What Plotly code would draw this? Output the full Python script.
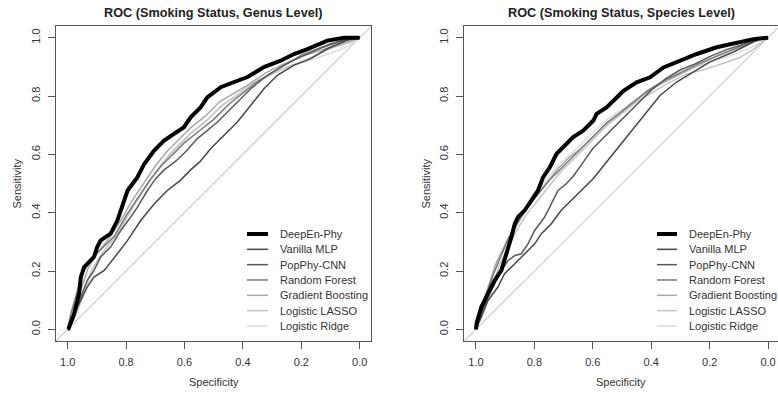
import plotly.graph_objects as go

W, H = 778, 395

models = ["DeepEn-Phy", "Vanilla MLP", "PopPhy-CNN", "Random Forest",
          "Gradient Boosting", "Logistic LASSO", "Logistic Ridge"]
colors = ["#000000", "#474747", "#595959", "#7a7a7a", "#a8a8a8", "#c4c4c4", "#dcdcdc"]
widths = [4, 1.5, 1.5, 1.5, 1.5, 1.5, 1.5]

titles = ["ROC (Smoking Status, Genus Level)", "ROC (Smoking Status, Species Level)"]
tick_vals = [0.0, 0.2, 0.4, 0.6, 0.8, 1.0]
tick_text = ["0.0", "0.2", "0.4", "0.6", "0.8", "1.0"]

# ---------------- Genus level (left panel): specificity / sensitivity ----------------
genus_deep_spec = [1.0, 0.997, 0.978, 0.961, 0.955, 0.944, 0.910, 0.899, 0.887, 0.853, 0.830, 0.807,
                   0.795, 0.761, 0.738, 0.704, 0.670, 0.636, 0.602, 0.579, 0.545, 0.522, 0.476,
                   0.430, 0.384, 0.328, 0.271, 0.225, 0.179, 0.111, 0.054, 0.0]
genus_deep_sens = [0.0, 0.002, 0.054, 0.122, 0.179, 0.213, 0.248, 0.282, 0.305, 0.328, 0.373, 0.442,
                   0.476, 0.522, 0.567, 0.613, 0.647, 0.670, 0.693, 0.727, 0.761, 0.795, 0.830,
                   0.848, 0.865, 0.899, 0.921, 0.944, 0.961, 0.990, 1.0, 1.0]

genus_mlp_spec = [1.0, 0.995, 0.978, 0.955, 0.933, 0.910, 0.875, 0.830, 0.795, 0.750, 0.704, 0.659,
                  0.615, 0.581, 0.547, 0.510, 0.476, 0.419, 0.373, 0.328, 0.282, 0.225, 0.168,
                  0.111, 0.031, 0.0]
genus_mlp_sens = [0.0, 0.008, 0.054, 0.099, 0.145, 0.179, 0.202, 0.259, 0.305, 0.373, 0.430, 0.476,
                  0.510, 0.545, 0.575, 0.620, 0.654, 0.711, 0.768, 0.825, 0.871, 0.906, 0.928,
                  0.962, 0.997, 1.0]

genus_cnn_spec = [1.0, 0.978, 0.955, 0.933, 0.910, 0.887, 0.853, 0.818, 0.784, 0.761, 0.727, 0.700,
                  0.672, 0.627, 0.592, 0.556, 0.487, 0.430, 0.373, 0.316, 0.259, 0.200, 0.130,
                  0.060, 0.0]
genus_cnn_sens = [0.0, 0.042, 0.111, 0.168, 0.202, 0.248, 0.282, 0.339, 0.385, 0.419, 0.476, 0.515,
                  0.545, 0.579, 0.613, 0.654, 0.711, 0.768, 0.825, 0.871, 0.906, 0.935, 0.965,
                  0.990, 1.0]

genus_rf_spec = [1.0, 0.99, 0.97, 0.95, 0.92, 0.88, 0.84, 0.80, 0.76, 0.72, 0.68, 0.64, 0.60, 0.55,
                 0.50, 0.45, 0.40, 0.35, 0.30, 0.25, 0.20, 0.15, 0.10, 0.05, 0.0]
genus_rf_sens = [0.0, 0.05, 0.12, 0.19, 0.24, 0.28, 0.32, 0.39, 0.45, 0.51, 0.56, 0.60, 0.64, 0.68,
                 0.72, 0.77, 0.81, 0.85, 0.88, 0.91, 0.94, 0.96, 0.98, 0.99, 1.0]

genus_gb_spec = [1.0, 0.985, 0.97, 0.95, 0.93, 0.90, 0.86, 0.82, 0.78, 0.74, 0.70, 0.66, 0.62, 0.58,
                 0.53, 0.48, 0.43, 0.38, 0.32, 0.26, 0.20, 0.14, 0.08, 0.03, 0.0]
genus_gb_sens = [0.0, 0.04, 0.09, 0.15, 0.21, 0.26, 0.31, 0.37, 0.44, 0.50, 0.56, 0.61, 0.65, 0.69,
                 0.73, 0.78, 0.81, 0.84, 0.88, 0.91, 0.935, 0.955, 0.975, 0.99, 1.0]

genus_lasso_spec = [1.0, 0.98, 0.96, 0.94, 0.92, 0.89, 0.85, 0.81, 0.77, 0.73, 0.69, 0.65, 0.61, 0.57,
                    0.52, 0.47, 0.42, 0.37, 0.31, 0.25, 0.19, 0.13, 0.08, 0.03, 0.0]
genus_lasso_sens = [0.0, 0.03, 0.08, 0.14, 0.20, 0.25, 0.30, 0.36, 0.43, 0.49, 0.55, 0.60, 0.64, 0.68,
                    0.72, 0.77, 0.80, 0.84, 0.87, 0.90, 0.92, 0.95, 0.97, 0.985, 1.0]

genus_ridge_spec = [1.0, 0.985, 0.965, 0.945, 0.92, 0.89, 0.86, 0.82, 0.78, 0.74, 0.70, 0.66, 0.62,
                    0.58, 0.54, 0.49, 0.44, 0.39, 0.33, 0.27, 0.21, 0.15, 0.09, 0.04, 0.0]
genus_ridge_sens = [0.0, 0.03, 0.07, 0.12, 0.18, 0.24, 0.29, 0.35, 0.42, 0.48, 0.54, 0.59, 0.635,
                    0.67, 0.70, 0.75, 0.79, 0.83, 0.86, 0.89, 0.91, 0.93, 0.95, 0.97, 1.0]

# ---------------- Species level (right panel) ----------------
species_deep_spec = [1.0, 0.998, 0.982, 0.959, 0.936, 0.913, 0.902, 0.890, 0.879, 0.867, 0.856, 0.833,
                     0.810, 0.788, 0.770, 0.747, 0.724, 0.701, 0.667, 0.632, 0.598, 0.587, 0.553,
                     0.518, 0.495, 0.450, 0.404, 0.358, 0.301, 0.244, 0.176, 0.10, 0.05, 0.0]
species_deep_sens = [0.0, 0.020, 0.076, 0.122, 0.168, 0.202, 0.236, 0.271, 0.316, 0.362, 0.385, 0.408,
                     0.442, 0.476, 0.522, 0.556, 0.602, 0.624, 0.659, 0.682, 0.716, 0.739, 0.761,
                     0.795, 0.818, 0.847, 0.864, 0.898, 0.921, 0.944, 0.967, 0.985, 0.995, 1.0]

species_mlp_spec = [1.0, 0.982, 0.959, 0.925, 0.902, 0.867, 0.833, 0.799, 0.776, 0.742, 0.708, 0.673,
                    0.639, 0.598, 0.553, 0.507, 0.461, 0.416, 0.370, 0.313, 0.256, 0.199, 0.119,
                    0.027, 0.0]
species_mlp_sens = [0.0, 0.042, 0.099, 0.145, 0.191, 0.225, 0.259, 0.293, 0.328, 0.362, 0.408, 0.442,
                    0.476, 0.517, 0.574, 0.631, 0.688, 0.746, 0.802, 0.848, 0.882, 0.917, 0.951,
                    0.997, 1.0]

species_cnn_spec = [1.0, 0.982, 0.959, 0.936, 0.913, 0.890, 0.867, 0.845, 0.822, 0.799, 0.765, 0.742,
                    0.719, 0.690, 0.667, 0.632, 0.60, 0.56, 0.52, 0.48, 0.44, 0.40, 0.35, 0.30, 0.25,
                    0.20, 0.14, 0.08, 0.03, 0.0]
species_cnn_sens = [0.0, 0.054, 0.111, 0.156, 0.202, 0.236, 0.253, 0.259, 0.293, 0.339, 0.385, 0.430,
                    0.476, 0.500, 0.525, 0.574, 0.62, 0.66, 0.70, 0.74, 0.78, 0.82, 0.86, 0.89, 0.91,
                    0.935, 0.96, 0.98, 0.995, 1.0]

species_rf_spec = [1.0, 0.985, 0.965, 0.94, 0.915, 0.89, 0.86, 0.83, 0.79, 0.75, 0.71, 0.67, 0.63,
                   0.59, 0.55, 0.51, 0.46, 0.41, 0.36, 0.30, 0.24, 0.18, 0.12, 0.06, 0.0]
species_rf_sens = [0.0, 0.06, 0.12, 0.19, 0.25, 0.31, 0.36, 0.41, 0.46, 0.51, 0.55, 0.59, 0.63,
                   0.67, 0.71, 0.74, 0.78, 0.82, 0.85, 0.88, 0.91, 0.935, 0.96, 0.985, 1.0]

species_gb_spec = [1.0, 0.99, 0.97, 0.95, 0.93, 0.90, 0.87, 0.84, 0.80, 0.76, 0.72, 0.68, 0.64, 0.60,
                   0.56, 0.52, 0.47, 0.42, 0.37, 0.31, 0.25, 0.19, 0.13, 0.07, 0.0]
species_gb_sens = [0.0, 0.05, 0.11, 0.17, 0.23, 0.29, 0.35, 0.40, 0.45, 0.50, 0.55, 0.59, 0.62, 0.66,
                   0.70, 0.73, 0.77, 0.81, 0.84, 0.87, 0.90, 0.93, 0.955, 0.98, 1.0]

species_lasso_spec = [1.0, 0.98, 0.96, 0.94, 0.92, 0.89, 0.86, 0.83, 0.79, 0.75, 0.71, 0.67, 0.63,
                      0.59, 0.55, 0.50, 0.45, 0.40, 0.34, 0.28, 0.22, 0.16, 0.10, 0.05, 0.0]
species_lasso_sens = [0.0, 0.04, 0.10, 0.16, 0.22, 0.28, 0.34, 0.39, 0.44, 0.49, 0.54, 0.58, 0.62,
                      0.66, 0.70, 0.74, 0.78, 0.81, 0.845, 0.875, 0.89, 0.91, 0.93, 0.96, 1.0]

species_ridge_spec = [1.0, 0.985, 0.965, 0.945, 0.92, 0.895, 0.865, 0.835, 0.795, 0.755, 0.715, 0.675,
                      0.635, 0.595, 0.55, 0.50, 0.45, 0.40, 0.35, 0.29, 0.23, 0.17, 0.11, 0.05, 0.0]
species_ridge_sens = [0.0, 0.05, 0.11, 0.18, 0.24, 0.30, 0.35, 0.40, 0.46, 0.52, 0.565, 0.60, 0.64,
                      0.68, 0.72, 0.755, 0.79, 0.825, 0.855, 0.885, 0.905, 0.925, 0.945, 0.97, 1.0]

panels = [
    [(genus_deep_spec, genus_deep_sens), (genus_mlp_spec, genus_mlp_sens),
     (genus_cnn_spec, genus_cnn_sens), (genus_rf_spec, genus_rf_sens),
     (genus_gb_spec, genus_gb_sens), (genus_lasso_spec, genus_lasso_sens),
     (genus_ridge_spec, genus_ridge_sens)],
    [(species_deep_spec, species_deep_sens), (species_mlp_spec, species_mlp_sens),
     (species_cnn_spec, species_cnn_sens), (species_rf_spec, species_rf_sens),
     (species_gb_spec, species_gb_sens), (species_lasso_spec, species_lasso_sens),
     (species_ridge_spec, species_ridge_sens)],
]

# ---------------- layout geometry (pixels) ----------------
box_left = [56, 464]
box_right = [371.4, 778]
box_top, box_bottom = 26, 341
x_ranges = [[1.04, -0.04], [1.041, -0.034]]
y_range = [-0.04, 1.04]
FONT = "Liberation Sans, Arial, sans-serif"

fig = go.Figure()
for p in range(2):
    xa = "x" if p == 0 else "x2"
    ya = "y" if p == 0 else "y2"
    # lighter curves first, DeepEn-Phy last (on top)
    for i in list(range(6, 0, -1)) + [0]:
        sx, sy = panels[p][i]
        fig.add_trace(go.Scatter(x=sx, y=sy, mode="lines", xaxis=xa, yaxis=ya,
                                 line=dict(color=colors[i], width=widths[i]),
                                 name=models[i], showlegend=False, hoverinfo="skip"))

axis_common = dict(showgrid=False, zeroline=False, showline=True, mirror=True,
                   linecolor="#555555", linewidth=1, ticks="outside", ticklen=7,
                   tickcolor="#555555", tickwidth=1, tickvals=tick_vals, ticktext=tick_text,
                   tickfont=dict(family=FONT, size=11, color="#333333"),
                   ticklabelstandoff=4, fixedrange=True)

ydom = [1 - box_bottom / H, 1 - box_top / H]
fig.update_layout(
    width=W, height=H, margin=dict(l=0, r=0, t=0, b=0),
    paper_bgcolor="white", plot_bgcolor="white", showlegend=False,
    xaxis=dict(domain=[box_left[0] / W, box_right[0] / W], range=x_ranges[0], anchor="y", **axis_common),
    yaxis=dict(domain=ydom, range=y_range, anchor="x", tickangle=-90, **axis_common),
    xaxis2=dict(domain=[box_left[1] / W, min(box_right[1] / W, 1.0)], range=x_ranges[1], anchor="y2", **axis_common),
    yaxis2=dict(domain=ydom, range=y_range, anchor="x2", tickangle=-90, **axis_common),
)

shapes = []
annotations = []
centers = [(box_left[0] + box_right[0]) / 2, (box_left[1] + box_right[1]) / 2]
ylabel_x = [16, 425]
legend_line_x = [(247, 268), (657, 677)]
legend_text_x = [278, 687]
legend_rows_y = [234 + k * 15.33 for k in range(7)]

for p in range(2):
    xa = "x" if p == 0 else "x2"
    ya = "y" if p == 0 else "y2"
    # chance diagonal
    shapes.append(dict(type="line", xref=xa, yref=ya, x0=x_ranges[0][0], y0=y_range[0],
                       x1=x_ranges[0][1], y1=y_range[1], line=dict(color="#b0b0b0", width=1),
                       layer="below"))
    annotations.append(dict(text="<b>" + titles[p] + "</b>", x=centers[p] / W, y=1 - 13 / H,
                            xref="paper", yref="paper", showarrow=False, xanchor="center",
                            yanchor="middle", font=dict(family=FONT, size=12.7, color="#222222")))
    annotations.append(dict(text="Specificity", x=centers[p] / W, y=1 - 382 / H,
                            xref="paper", yref="paper", showarrow=False, xanchor="center",
                            yanchor="middle", font=dict(family=FONT, size=11, color="#333333")))
    annotations.append(dict(text="Sensitivity", x=ylabel_x[p] / W, y=1 - ((box_top + box_bottom) / 2) / H,
                            xref="paper", yref="paper", showarrow=False, xanchor="center",
                            yanchor="middle", textangle=-90,
                            font=dict(family=FONT, size=11, color="#333333")))
    # legend
    for i, name in enumerate(models):
        yy = 1 - legend_rows_y[i] / H
        shapes.append(dict(type="line", xref="paper", yref="paper",
                           x0=legend_line_x[p][0] / W, x1=legend_line_x[p][1] / W, y0=yy, y1=yy,
                           line=dict(color=colors[i], width=widths[i])))
        annotations.append(dict(text=name, x=legend_text_x[p] / W, y=yy, xref="paper", yref="paper",
                                showarrow=False, xanchor="left", yanchor="middle",
                                font=dict(family=FONT, size=11, color="#333333")))

fig.update_layout(shapes=shapes, annotations=annotations)
fig.write_html("out.html", config={"displayModeBar": False},
               post_script="document.body.style.margin='0';document.body.style.overflow='hidden';")
